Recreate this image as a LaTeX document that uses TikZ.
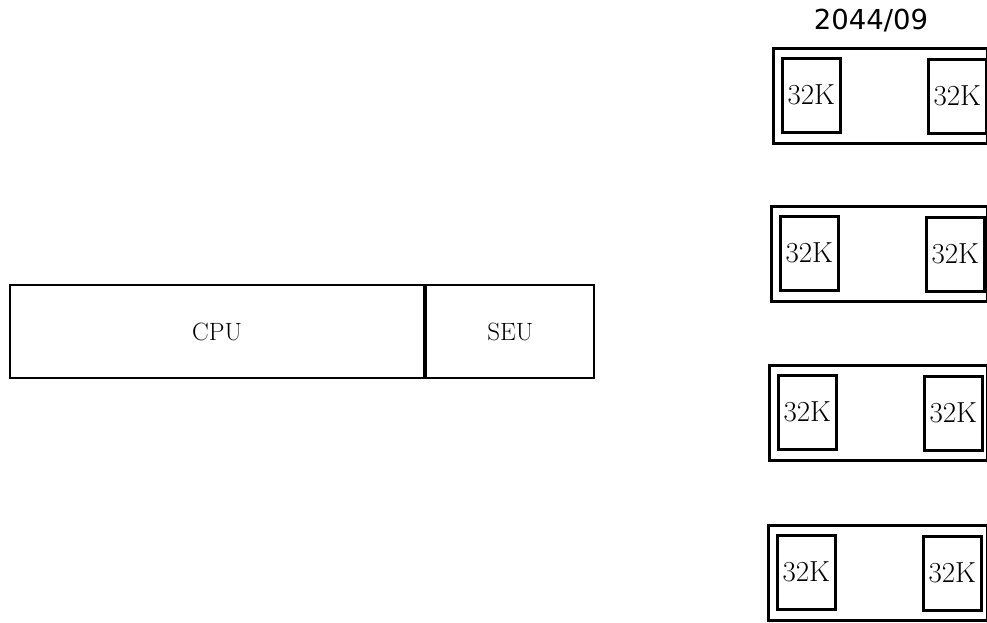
\documentclass[tikz,border=0pt]{standalone}
\usepackage{fontspec}
\newfontfamily\stampfont{DejaVu Sans}
\usetikzlibrary{positioning}

\begin{document}
\begin{tikzpicture}[x=1pt, y=-1pt,
        unit/.style={draw, line width=2.2pt, inner sep=0pt, minimum height=93pt, font=\fontsize{25}{28}\selectfont},
        board/.style={draw, line width=3pt, inner sep=0pt, minimum height=95pt, anchor=north west},
        chip/.style={draw, line width=2.6pt, inner sep=0pt, minimum width=58pt, minimum height=74pt, anchor=north west, font=\fontsize{29}{32}\selectfont}]
        \useasboundingbox (0,0) rectangle (987,622);

        % Processor
        \node[unit, minimum width=414pt, anchor=north west] (cpu) at (9,284) {CPU};
        \node[unit, minimum width=168pt, anchor=west] (seu) at (cpu.east) {SEU};

        % Memory boards
        \node (title) at (871,21) {\stampfont\fontsize{27.5}{30}\selectfont 2044/09};
        \foreach \i/\top/\lft in {1/47/772, 2/205/770, 3/364/768, 4/524/767} {
            \node[board, minimum width={986-\lft}] (board\i) at (\lft,\top) {};
            \node[chip] (left\i) at ([xshift=9pt, yshift=-10pt]board\i.north west) {32K};
            \node[chip] (right\i) at ([xshift=155pt, yshift=-11pt]board\i.north west) {32K};
        }
    \end{tikzpicture}
\end{document}
